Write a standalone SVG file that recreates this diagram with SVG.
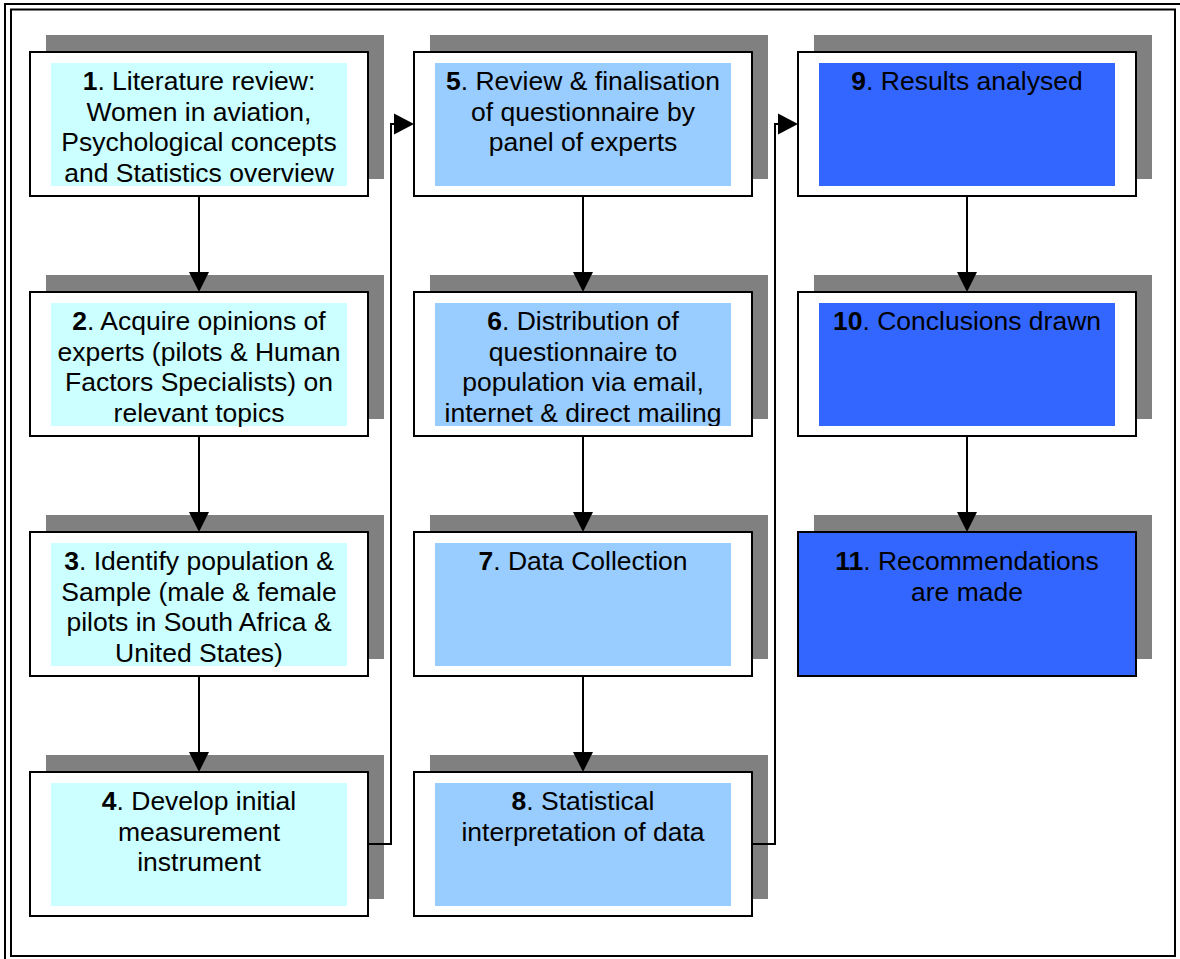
<svg xmlns="http://www.w3.org/2000/svg" width="1180" height="959" viewBox="0 0 1180 959">
<style>
.sh{fill:#808080}
.bx{fill:#fff;stroke:#000;stroke-width:2}
.c1{fill:#CCFFFF}
.c2{fill:#99CCFF}
.c3{fill:#3366FF}
text{font-family:"Liberation Sans",Arial,sans-serif;font-size:26.5px;fill:#000;text-anchor:middle}
.b{font-weight:bold}
.ln{fill:none;stroke:#000;stroke-width:2}
.ah{fill:#000}
</style>
<defs>
<clipPath id="clip6"><rect x="435" y="303" width="296" height="123"/></clipPath>
</defs>
<rect width="1180" height="959" fill="#fff"/>
<g id="frame">
<path d="M5,962 V4 H1182" fill="none" stroke="#000" stroke-width="2"/>
<rect x="11" y="9.5" width="1164" height="946.5" fill="none" stroke="#000" stroke-width="2"/>
</g>
<g id="node1">
<rect class="sh" x="46" y="35" width="338" height="144"/>
<rect class="bx" x="30" y="52" width="338" height="144"/>
<rect class="c1" x="51" y="63" width="296" height="123"/>
<text x="199" y="90"><tspan class="b">1</tspan>. Literature review:</text>
<text x="199" y="120.5">Women in aviation,</text>
<text x="199" y="151">Psychological concepts</text>
<text x="199" y="181.5">and Statistics overview</text>
</g>
<g id="node2">
<rect class="sh" x="46" y="275" width="338" height="144"/>
<rect class="bx" x="30" y="292" width="338" height="144"/>
<rect class="c1" x="51" y="303" width="296" height="123"/>
<text x="199" y="330"><tspan class="b">2</tspan>. Acquire opinions of</text>
<text x="199" y="360.5">experts (pilots &amp; Human</text>
<text x="199" y="391">Factors Specialists) on</text>
<text x="199" y="421.5">relevant topics</text>
</g>
<g id="node3">
<rect class="sh" x="46" y="515" width="338" height="144"/>
<rect class="bx" x="30" y="532" width="338" height="144"/>
<rect class="c1" x="51" y="543" width="296" height="123"/>
<text x="199" y="570"><tspan class="b">3</tspan>. Identify population &amp;</text>
<text x="199" y="600.5">Sample (male &amp; female</text>
<text x="199" y="631">pilots in South Africa &amp;</text>
<text x="199" y="661.5">United States)</text>
</g>
<g id="node4">
<rect class="sh" x="46" y="755" width="338" height="144"/>
<rect class="bx" x="30" y="772" width="338" height="144"/>
<rect class="c1" x="51" y="783" width="296" height="123"/>
<text x="199" y="810"><tspan class="b">4</tspan>. Develop initial</text>
<text x="199" y="840.5">measurement</text>
<text x="199" y="871">instrument</text>
</g>
<g id="node5">
<rect class="sh" x="430" y="35" width="338" height="144"/>
<rect class="bx" x="414" y="52" width="338" height="144"/>
<rect class="c2" x="435" y="63" width="296" height="123"/>
<text x="583" y="90"><tspan class="b">5</tspan>. Review &amp; finalisation</text>
<text x="583" y="120.5">of questionnaire by</text>
<text x="583" y="151">panel of experts</text>
</g>
<g id="node6">
<rect class="sh" x="430" y="275" width="338" height="144"/>
<rect class="bx" x="414" y="292" width="338" height="144"/>
<rect class="c2" x="435" y="303" width="296" height="123"/>
<g clip-path="url(#clip6)">
<text x="583" y="330"><tspan class="b">6</tspan>. Distribution of</text>
<text x="583" y="360.5">questionnaire to</text>
<text x="583" y="391">population via email,</text>
<text x="583" y="421.5">internet &amp; direct mailing</text>
</g>
</g>
<g id="node7">
<rect class="sh" x="430" y="515" width="338" height="144"/>
<rect class="bx" x="414" y="532" width="338" height="144"/>
<rect class="c2" x="435" y="543" width="296" height="123"/>
<text x="583" y="570"><tspan class="b">7</tspan>. Data Collection</text>
</g>
<g id="node8">
<rect class="sh" x="430" y="755" width="338" height="144"/>
<rect class="bx" x="414" y="772" width="338" height="144"/>
<rect class="c2" x="435" y="783" width="296" height="123"/>
<text x="583" y="810"><tspan class="b">8</tspan>. Statistical</text>
<text x="583" y="840.5">interpretation of data</text>
</g>
<g id="node9">
<rect class="sh" x="814" y="35" width="338" height="144"/>
<rect class="bx" x="798" y="52" width="338" height="144"/>
<rect class="c3" x="819" y="63" width="296" height="123"/>
<text x="967" y="90"><tspan class="b">9</tspan>. Results analysed</text>
</g>
<g id="node10">
<rect class="sh" x="814" y="275" width="338" height="144"/>
<rect class="bx" x="798" y="292" width="338" height="144"/>
<rect class="c3" x="819" y="303" width="296" height="123"/>
<text x="967" y="330"><tspan class="b">10</tspan>. Conclusions drawn</text>
</g>
<g id="node11">
<rect class="sh" x="814" y="515" width="338" height="144"/>
<rect class="bx" x="798" y="532" width="338" height="144" style="fill:#3366FF"/>
<text x="967" y="570"><tspan class="b">11</tspan>. Recommendations</text>
<text x="967" y="600.5">are made</text>
</g>
<g id="connectors">
<path class="ln" d="M199,196 V274 M199,436 V514 M199,676 V754"/>
<polygon class="ah" points="189,272 209,272 199,292"/>
<polygon class="ah" points="189,512 209,512 199,532"/>
<polygon class="ah" points="189,752 209,752 199,772"/>
<path class="ln" d="M583,196 V274 M583,436 V514 M583,676 V754"/>
<polygon class="ah" points="573,272 593,272 583,292"/>
<polygon class="ah" points="573,512 593,512 583,532"/>
<polygon class="ah" points="573,752 593,752 583,772"/>
<path class="ln" d="M967,196 V274 M967,436 V514"/>
<polygon class="ah" points="957,272 977,272 967,292"/>
<polygon class="ah" points="957,512 977,512 967,532"/>
<path class="ln" d="M368,844 H391 V124 H396"/>
<polygon class="ah" points="394,113.5 394,134.5 414,124"/>
<path class="ln" d="M752,844 H775 V124 H780"/>
<polygon class="ah" points="778,113.5 778,134.5 798,124"/>
</g>
</svg>
